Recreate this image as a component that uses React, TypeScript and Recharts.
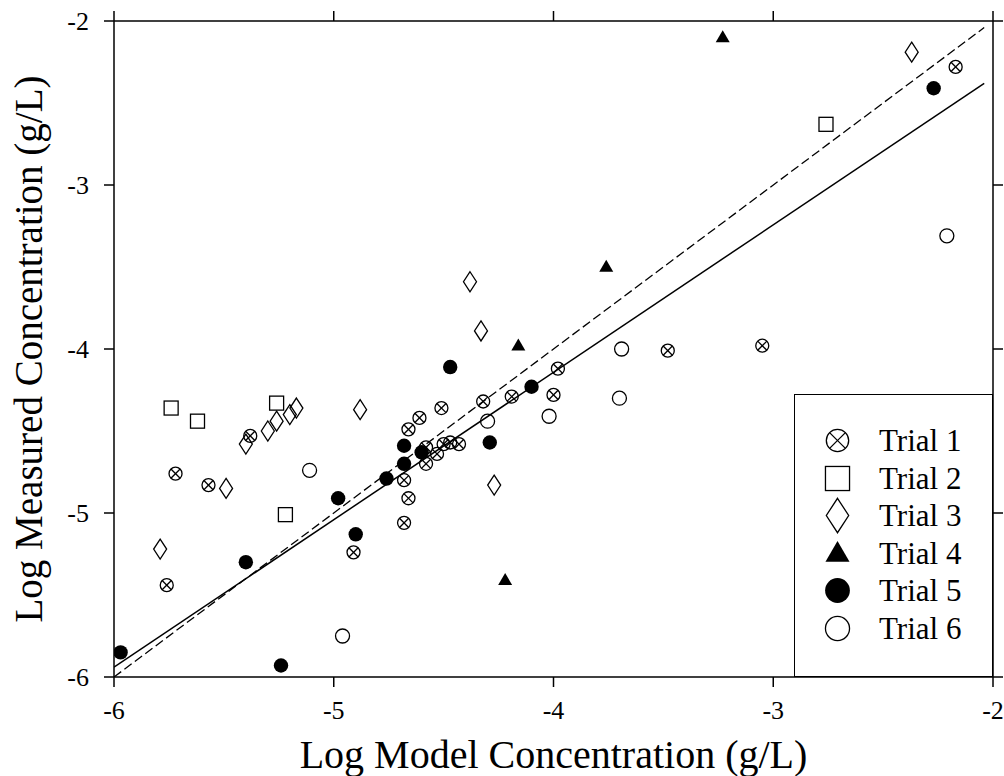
import React from 'react';
import { ScatterChart, Scatter, XAxis, YAxis, Legend } from 'recharts';

// log10 concentrations (g/L)
const axisTicks = [-6, -5, -4, -3, -2];

const trial1 = [
  { x: -2.17, y: -2.28 }, { x: -3.48, y: -4.01 }, { x: -3.05, y: -3.98 },
  { x: -5.76, y: -5.44 }, { x: -5.38, y: -4.53 }, { x: -5.72, y: -4.76 },
  { x: -5.57, y: -4.83 }, { x: -4.91, y: -5.24 }, { x: -3.98, y: -4.12 },
  { x: -4.19, y: -4.29 }, { x: -4.0, y: -4.28 }, { x: -4.32, y: -4.32 },
  { x: -4.51, y: -4.36 }, { x: -4.61, y: -4.42 }, { x: -4.66, y: -4.49 },
  { x: -4.58, y: -4.6 }, { x: -4.5, y: -4.58 }, { x: -4.47, y: -4.57 },
  { x: -4.43, y: -4.58 }, { x: -4.53, y: -4.64 }, { x: -4.58, y: -4.7 },
  { x: -4.68, y: -4.8 }, { x: -4.66, y: -4.91 }, { x: -4.68, y: -5.06 },
];

const trial2 = [
  { x: -5.74, y: -4.36 }, { x: -5.62, y: -4.44 }, { x: -5.26, y: -4.33 },
  { x: -5.22, y: -5.01 }, { x: -2.76, y: -2.63 },
];

const trial3 = [
  { x: -5.4, y: -4.58 }, { x: -5.3, y: -4.5 }, { x: -5.26, y: -4.44 },
  { x: -5.2, y: -4.4 }, { x: -5.17, y: -4.36 }, { x: -4.88, y: -4.37 },
  { x: -5.49, y: -4.85 }, { x: -5.79, y: -5.22 }, { x: -4.38, y: -3.59 },
  { x: -4.33, y: -3.89 }, { x: -4.27, y: -4.83 }, { x: -2.37, y: -2.19 },
];

const trial4 = [
  { x: -3.23, y: -2.1 }, { x: -3.76, y: -3.5 }, { x: -4.16, y: -3.98 },
  { x: -4.22, y: -5.41 },
];

const trial5 = [
  { x: -5.97, y: -5.85 }, { x: -5.4, y: -5.3 }, { x: -5.24, y: -5.93 },
  { x: -4.98, y: -4.91 }, { x: -4.9, y: -5.13 }, { x: -4.76, y: -4.79 },
  { x: -4.47, y: -4.11 }, { x: -4.1, y: -4.23 }, { x: -4.29, y: -4.57 },
  { x: -4.68, y: -4.59 }, { x: -4.6, y: -4.63 }, { x: -4.68, y: -4.7 },
  { x: -2.27, y: -2.41 },
];

const trial6 = [
  { x: -3.69, y: -4.0 }, { x: -3.7, y: -4.3 }, { x: -4.02, y: -4.41 },
  { x: -4.3, y: -4.44 }, { x: -4.96, y: -5.75 }, { x: -5.11, y: -4.74 },
  { x: -2.21, y: -3.31 },
];

// regression line and 1:1 line
const fitLine = [{ x: -6, y: -5.94 }, { x: -2.04, y: -2.38 }];
const unityLine = [{ x: -6, y: -6 }, { x: -2.04, y: -2.04 }];

const trialNames = ['Trial 1', 'Trial 2', 'Trial 3', 'Trial 4', 'Trial 5', 'Trial 6'];

type Kind = 'cross' | 'square' | 'diamond' | 'triangle' | 'dot' | 'ring';
const trialKinds: Kind[] = ['cross', 'square', 'diamond', 'triangle', 'dot', 'ring'];

const FONT = '"Liberation Serif", "Times New Roman", serif';

function Marker({ kind, cx, cy, s = 1 }: { kind: Kind; cx: number; cy: number; s?: number }) {
  const sw = 1.3;
  switch (kind) {
    case 'cross': {
      const r = 6.5 * s;
      const d = r * 0.707;
      return (
        <g stroke="#000" strokeWidth={sw} fill="none">
          <circle cx={cx} cy={cy} r={r} />
          <line x1={cx - d} y1={cy - d} x2={cx + d} y2={cy + d} />
          <line x1={cx - d} y1={cy + d} x2={cx + d} y2={cy - d} />
        </g>
      );
    }
    case 'square': {
      const h = 7 * s;
      return <rect x={cx - h} y={cy - h} width={2 * h} height={2 * h} fill="none" stroke="#000" strokeWidth={sw} />;
    }
    case 'diamond': {
      const w = 6.5 * s;
      const h = 10 * s;
      return (
        <polygon
          points={`${cx},${cy - h} ${cx + w},${cy} ${cx},${cy + h} ${cx - w},${cy}`}
          fill="none"
          stroke="#000"
          strokeWidth={sw}
        />
      );
    }
    case 'triangle': {
      const w = 7 * s;
      const h = 12 * s;
      return (
        <polygon
          points={`${cx},${cy - h * 0.6} ${cx + w},${cy + h * 0.4} ${cx - w},${cy + h * 0.4}`}
          fill="#000"
        />
      );
    }
    case 'dot':
      return <circle cx={cx} cy={cy} r={7.2 * s} fill="#000" />;
    default:
      return <circle cx={cx} cy={cy} r={7 * s} fill="none" stroke="#000" strokeWidth={sw} />;
  }
}

const shapeFor = (kind: Kind) => (props: any) => <Marker kind={kind} cx={props.cx} cy={props.cy} />;

function LegendBox() {
  return (
    <div
      style={{
        width: 199,
        height: 283,
        boxSizing: 'border-box',
        border: '1.5px solid #000',
        background: '#fff',
        paddingTop: 27,
        fontFamily: FONT,
      }}
    >
      {trialNames.map((name, i) => (
        <div key={name} style={{ display: 'flex', alignItems: 'center', height: 37.5 }}>
          <svg width={84} height={37} style={{ flex: 'none' }}>
            <Marker kind={trialKinds[i]} cx={42.5} cy={18.5} s={1.72} />
          </svg>
          <span style={{ fontSize: 31, lineHeight: '37.5px', color: '#000' }}>{name}</span>
        </div>
      ))}
    </div>
  );
}

const BottomTick = (props: any) => (
  <text x={props.x} y={props.y} dy="0.71em" textAnchor="middle" fontSize={26} fontFamily={FONT} fill="#000">
    {props.payload.value}
  </text>
);

const LeftTick = (props: any) => (
  <text x={props.x} y={props.y} dy="0.355em" textAnchor="end" fontSize={26} fontFamily={FONT} fill="#000">
    {props.payload.value}
  </text>
);

const NoTick = () => <g />;

const axisLine = { stroke: '#000', strokeWidth: 1.5 };

export default function App() {
  const series = [trial1, trial2, trial3, trial4, trial5, trial6];
  return (
    <div style={{ position: 'absolute', left: 0, top: 0, background: '#fff', fontFamily: FONT }}>
      <ScatterChart
        width={1004}
        height={776}
        margin={{ top: 20, right: 10, bottom: 0, left: 0 }}
        style={{ fontFamily: FONT }}
      >
        <XAxis
          type="number"
          dataKey="x"
          domain={[-6, -2]}
          ticks={axisTicks}
          allowDataOverflow
          height={99}
          tickSize={10}
          tickMargin={14}
          axisLine={axisLine}
          tickLine={axisLine}
          tick={BottomTick}
          label={{
            value: 'Log Model Concentration (g/L)',
            position: 'insideBottom',
            offset: 8,
            fontSize: 40,
            fill: '#000',
            fontFamily: FONT,
          }}
        />
        <XAxis
          xAxisId="top"
          orientation="top"
          type="number"
          dataKey="x"
          domain={[-6, -2]}
          ticks={axisTicks}
          allowDataOverflow
          height={1}
          tickSize={10}
          axisLine={axisLine}
          tickLine={axisLine}
          tick={NoTick}
        />
        <YAxis
          type="number"
          dataKey="y"
          domain={[-6, -2]}
          ticks={axisTicks}
          allowDataOverflow
          width={114}
          tickSize={10}
          tickMargin={15}
          axisLine={axisLine}
          tickLine={axisLine}
          tick={LeftTick}
          label={{
            value: 'Log Measured Concentration (g/L)',
            angle: -90,
            position: 'insideLeft',
            offset: 28,
            fontSize: 39,
            fill: '#000',
            fontFamily: FONT,
            style: { textAnchor: 'middle' },
          }}
        />
        <YAxis
          yAxisId="right"
          orientation="right"
          type="number"
          dataKey="y"
          domain={[-6, -2]}
          ticks={axisTicks}
          allowDataOverflow
          width={1}
          tickSize={10}
          axisLine={axisLine}
          tickLine={axisLine}
          tick={NoTick}
        />
        <Scatter
          name="fit"
          data={fitLine}
          xAxisId="top"
          yAxisId="right"
          line={{ stroke: '#000', strokeWidth: 1.5, fill: 'none' }}
          shape={() => <g />}
          legendType="none"
          isAnimationActive={false}
        />
        <Scatter
          name="1:1"
          data={unityLine}
          line={{ stroke: '#000', strokeWidth: 1.3, strokeDasharray: '9 4', fill: 'none' }}
          shape={() => <g />}
          legendType="none"
          isAnimationActive={false}
        />
        {series.map((data, i) => (
          <Scatter
            key={trialNames[i]}
            name={trialNames[i]}
            data={data}
            shape={shapeFor(trialKinds[i])}
            isAnimationActive={false}
          />
        ))}
        <Legend
          layout="vertical"
          align="center"
          verticalAlign="middle"
          content={() => <LegendBox />}
          wrapperStyle={{ left: 794, top: 394, width: 199, height: 283 }}
        />
      </ScatterChart>
    </div>
  );
}
